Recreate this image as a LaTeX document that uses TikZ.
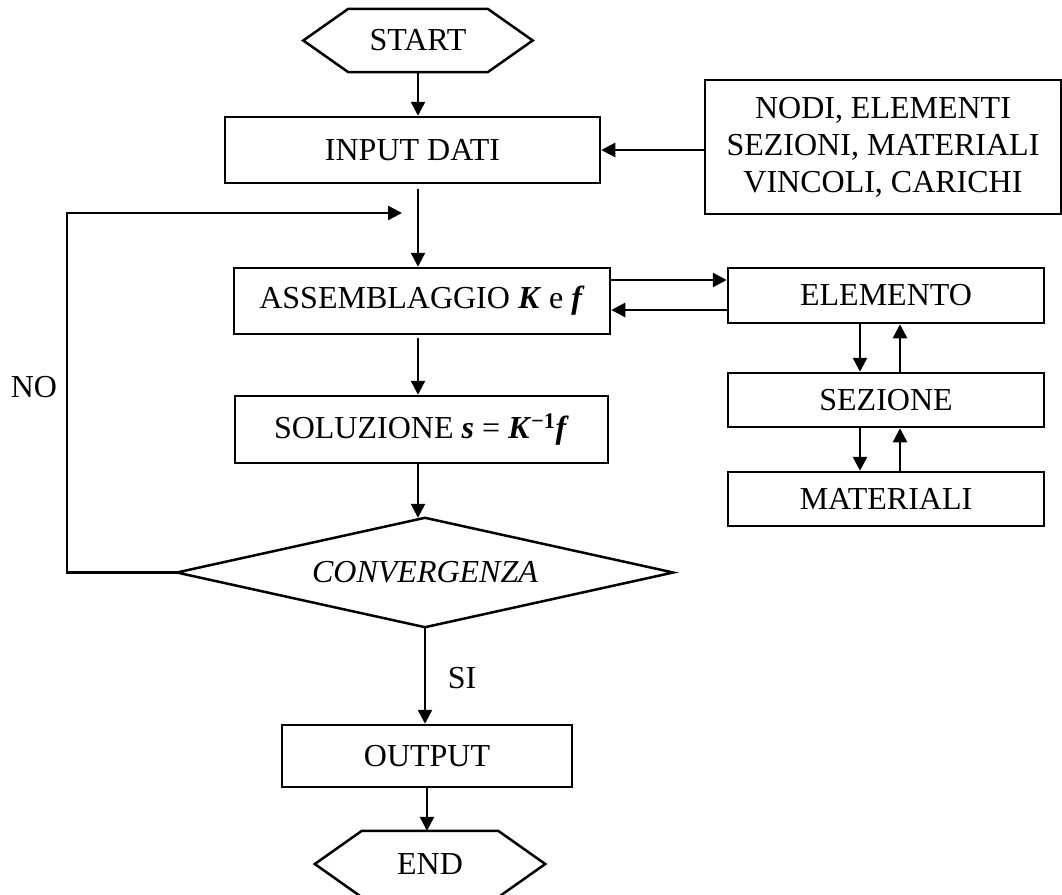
\documentclass[tikz,border=0pt]{standalone}
\usepackage{fontspec}
\setmainfont{Liberation Serif}
\usetikzlibrary{arrows.meta,calc}
\newcommand{\bvec}[1]{\textbf{\textit{#1}}}
\begin{document}
\begin{tikzpicture}[x=1pt,y=-1pt,
  font=\fontsize{32}{37}\selectfont,
  lw/.style={line width=2.5pt},
  box/.style={draw,lw,inner sep=0pt,align=center},
  terminal/.style={inner sep=0pt},
  decision/.style={inner sep=0pt,font=\fontsize{32}{37}\selectfont\itshape},
  conn/.style={lw,-{Triangle[length=14pt,width=14pt]}},
  lbl/.style={inner sep=0pt}]
\useasboundingbox (0,0) rectangle (1062,894);
\clip (0,0) rectangle (1062,894);

% main column
\node[terminal,minimum width=229pt,minimum height=63pt] (start) at (418,40.5) {START};
\node[box,minimum width=375pt,minimum height=66pt] (input) at (412.5,150) {INPUT DATI};
\node[box,minimum width=376pt,minimum height=66pt] (assem) at (422,301) {ASSEMBLAGGIO \bvec{K} e \bvec{f}};
\node[box,minimum width=373pt,minimum height=67pt] (sol) at (421.5,429.5) {SOLUZIONE \bvec{s} = \bvec{K}\textsuperscript{\textbf{−1}}\bvec{f}};
\node[decision,minimum width=496pt,minimum height=109pt] (conv) at (425,572.5) {CONVERGENZA};
\node[box,minimum width=290pt,minimum height=62pt] (output) at (427,756) {OUTPUT};
\node[terminal,minimum width=230pt,minimum height=66pt] (end) at (430,864) {END};

% hexagonal terminals
\foreach \t/\d in {start/45,end/47}{
  \draw[lw] (\t.west) -- ($(\t.north west)+(\d,0)$) -- ($(\t.north east)+(-\d,0)$)
    -- (\t.east) -- ($(\t.south east)+(-\d,0)$) -- ($(\t.south west)+(\d,0)$) -- cycle;
}
% decision outline
\draw[lw] (conv.west) -- (conv.north) -- (conv.east) -- (conv.south) -- cycle;

% side column
\node[box,minimum width=356pt,minimum height=134pt] (data) at (883,147)
  {NODI, ELEMENTI\\SEZIONI, MATERIALI\\VINCOLI, CARICHI};
\node[box,minimum width=316pt,minimum height=55pt] (elem) at (886,295.5) {ELEMENTO};
\node[box,minimum width=316pt,minimum height=54pt] (sez) at (886,400) {SEZIONE};
\node[box,minimum width=316pt,minimum height=54pt] (mat) at (886,499) {MATERIALI};

% labels
\node[lbl] (no) at (34,387) {NO};
\node[lbl] (si) at (462,678) {SI};

% helper coordinates
\coordinate (axis) at (418,0);
\coordinate (loopx) at (67,0);
\coordinate (looptip) at (402,213);

% connectors
\draw[conn] (start.south -| axis) -- (input.north -| axis);
\draw[conn] (data.west |- input.east) -- (input.east);
\draw[conn,shorten <=5pt] (input.south -| axis) -- (assem.north -| axis);
\draw[conn,shorten <=3pt] (assem.south -| axis) -- (sol.north -| axis);
\draw[conn] (sol.south -| axis) -- (conv.north -| axis);
\draw[conn] (conv.south) -- (conv.south |- output.north);
\draw[conn] (output.south) -- (output.south |- end.north);
\draw[conn] (conv.west) -- (conv.west -| loopx) |- (looptip);

\draw[conn] ([yshift=21pt]assem.east) -- ([yshift=21pt]assem.east -| elem.west);
\draw[conn] ([yshift=-9pt]assem.east -| elem.west) -- ([yshift=-9pt]assem.east);

\draw[conn] ([xshift=-26pt]elem.south) -- ([xshift=-26pt]sez.north);
\draw[conn] ([xshift=14pt]sez.north) -- ([xshift=14pt]elem.south);
\draw[conn] ([xshift=-26pt]sez.south) -- ([xshift=-26pt]mat.north);
\draw[conn] ([xshift=14pt]mat.north) -- ([xshift=14pt]sez.south);
\end{tikzpicture}
\end{document}
